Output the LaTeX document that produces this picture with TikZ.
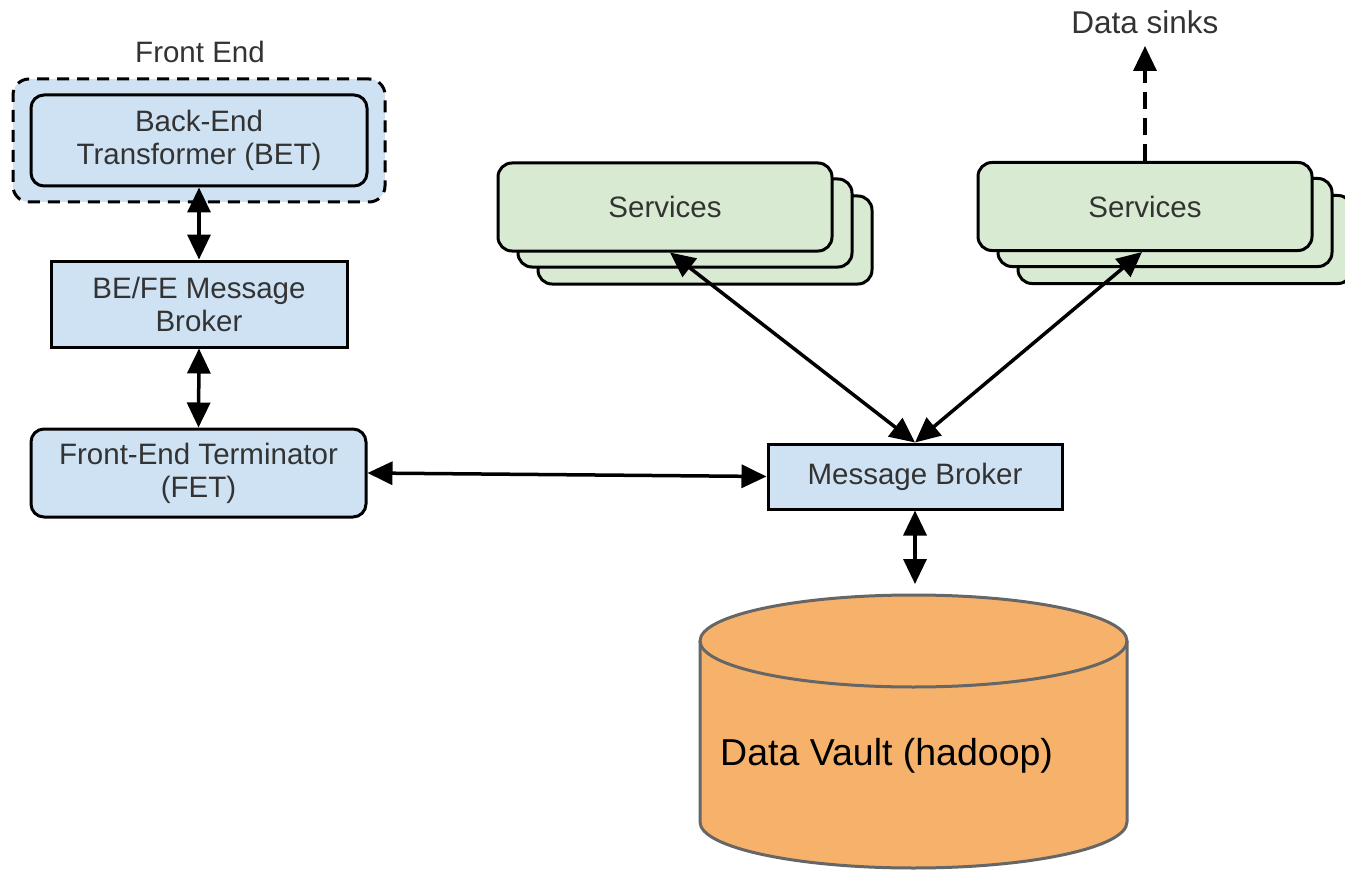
\documentclass[tikz,border=0pt]{standalone}
\usepackage{fontspec}
\setmainfont{Liberation Sans}
\usetikzlibrary{arrows.meta}
\definecolor{boxblue}{HTML}{CFE2F3}
\definecolor{boxgreen}{HTML}{D9EAD3}
\definecolor{vaultorange}{HTML}{F6B26B}
\definecolor{vaultedge}{HTML}{666666}
\definecolor{textgray}{HTML}{333333}
\tikzset{
  lbl/.style={font=\fontsize{29.5}{33}\selectfont, text=textgray, align=center, inner sep=0pt},
  bluebox/.style={lbl, draw=black, line width=3pt, fill=boxblue, minimum width=#1},
  roundbox/.style={bluebox=#1, rounded corners=13pt},
  svcbox/.style={lbl, draw=black, line width=3pt, fill=boxgreen, rounded corners=14pt,
    minimum width=334pt, minimum height=88pt},
  link/.style={line width=3.5pt, {Triangle[length=25pt,width=23pt]}-{Triangle[length=25pt,width=23pt]}},
  sink/.style={line width=3.5pt, dash pattern=on 17pt off 9pt, -{Triangle[length=25pt,width=23pt]}},
}
\begin{document}
\begin{tikzpicture}[x=1pt,y=1pt]
\useasboundingbox (0,0) rectangle (1345,-872);

% front end group with the transformer inside
\node[draw=black, line width=3pt, dash pattern=on 12pt off 8pt, fill=boxblue,
  rounded corners=16pt, minimum width=372pt, minimum height=123pt, inner sep=0pt]
  (fegroup) at (199,-140.5) {};
\node[lbl] (felabel) at (200,-52) {Front End};
\node[roundbox=336pt, minimum height=91pt] (bet) at (199,-140.5)
  {Back-End\\Transformer (BET)};
\node[bluebox=296pt, minimum height=86pt] (befe) at (199,-304)
  {BE/FE Message\\Broker};
\node[roundbox=335pt, minimum height=88pt] (fet) at (198.5,-473)
  {Front-End Terminator\\(FET)};

% central broker
\node[bluebox=294pt, minimum height=65pt] (mb) at (915,-476.5) {Message Broker};

% service stacks, back copies first
\node[svcbox] (svcLc) at (705,-240) {};
\node[svcbox] (svcLb) at (685,-223) {};
\node[svcbox] (svcL) at (665,-207) {Services};
\node[svcbox] (svcRc) at (1185,-239.5) {};
\node[svcbox] (svcRb) at (1165,-222.5) {};
\node[svcbox] (svcR) at (1145,-206.5) {Services};

\node[lbl, font=\fontsize{31.5}{35}\selectfont] (sinks) at (1145,-22) {Data sinks};
\coordinate (sinktip) at (1145,-46);

% data vault cylinder
\fill[vaultorange] (700,-641) -- (700,-822)
  arc[start angle=180, end angle=360, x radius=213.5, y radius=46]
  -- (1127,-641)
  arc[start angle=0, end angle=180, x radius=213.5, y radius=46] -- cycle;
\draw[vaultedge, line width=3pt] (913.5,-641) ellipse [x radius=213.5, y radius=46];
\draw[vaultedge, line width=3pt] (700,-641) -- (700,-822)
  arc[start angle=180, end angle=360, x radius=213.5, y radius=46] -- (1127,-641);
\node[font=\fontsize{37.5}{42}\selectfont, anchor=west, inner sep=0pt] (vault) at (720,-756)
  {Data Vault (hadoop)};
\coordinate (vaulttop) at (915,-584);

% connectors
\draw[link] (bet.south) -- (befe.north);
\draw[link] (befe.south) -- (fet.north);
\draw[link] (fet.east) -- (mb.west);
\draw[link] (mb.south) -- (vaulttop);
\draw[link] (svcL.south) ++(5,0) coordinate (sl) -- (mb.north);
\draw[link] (svcR.south) ++(-3,0) coordinate (sr) -- (mb.north);
\draw[sink] (svcR.north) -- (sinktip);
\end{tikzpicture}
\end{document}
